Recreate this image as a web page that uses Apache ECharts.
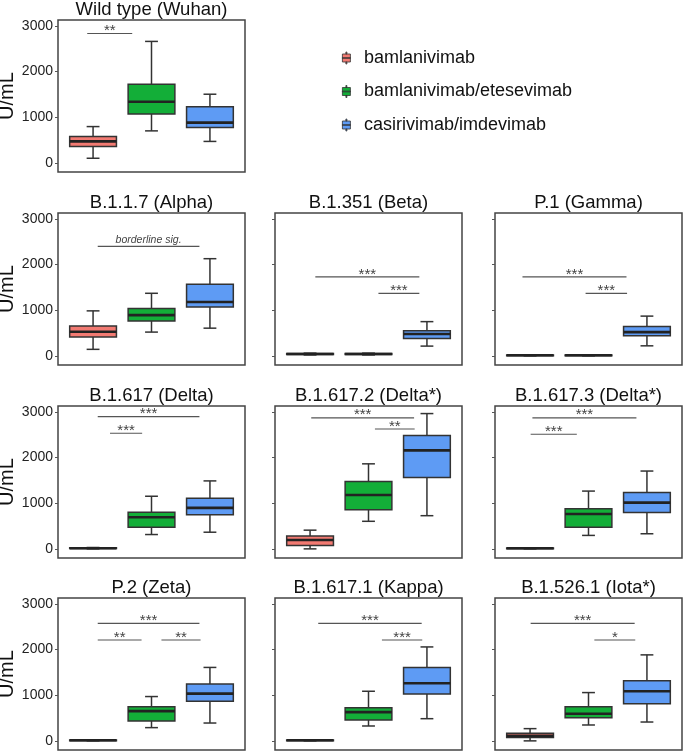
<!DOCTYPE html>
<html>
<head>
<meta charset="utf-8">
<script src="https://cdn.jsdelivr.net/npm/echarts@6/dist/echarts.min.js"></script>
<style>
html,body{margin:0;padding:0;background:#fff;}
#chart{width:685px;height:754px;}
</style>
</head>
<body>
<div id="chart"></div>
<script>
// ---------- DATA ----------
const groups = ['bamlanivimab', 'bamlanivimab/etesevimab', 'casirivimab/imdevimab'];
const panelTitles = ['Wild type (Wuhan)', 'B.1.1.7 (Alpha)', 'B.1.351 (Beta)', 'P.1 (Gamma)',
  'B.1.617 (Delta)', 'B.1.617.2 (Delta*)', 'B.1.617.3 (Delta*)',
  'P.2 (Zeta)', 'B.1.617.1 (Kappa)', 'B.1.526.1 (Iota*)'];
// [min, Q1, median, Q3, max] per panel
const bamlanivimab = [
  [101, 361, 470, 578, 795],
  [143, 414, 529, 657, 986],
  [20, 30, 40, 50, 60],
  [0, 5, 12, 20, 25],
  [0, 8, 15, 22, 30],
  [0, 72, 194, 281, 410],
  [0, 5, 12, 20, 25],
  [0, 5, 12, 20, 25],
  [0, 5, 12, 20, 25],
  [0, 72, 109, 167, 268]
];
const bamlanivimabEtesevimab = [
  [701, 1070, 1338, 1721, 2661],
  [521, 764, 893, 1036, 1371],
  [20, 30, 40, 50, 60],
  [0, 5, 12, 20, 25],
  [314, 474, 693, 803, 1153],
  [604, 856, 1180, 1475, 1863],
  [295, 475, 763, 878, 1266],
  [290, 435, 652, 746, 971],
  [326, 457, 630, 725, 1087],
  [348, 507, 594, 746, 1058]
];
const casirivimabImdevimab = [
  [470, 774, 882, 1229, 1504],
  [607, 1071, 1179, 1571, 2129],
  [214, 379, 479, 550, 750],
  [220, 443, 521, 643, 871],
  [365, 745, 898, 1109, 1489],
  [727, 1561, 2158, 2482, 2964],
  [331, 799, 1014, 1237, 1705],
  [391, 870, 1036, 1246, 1609],
  [486, 1029, 1261, 1609, 2058],
  [413, 812, 1087, 1319, 1884]
];
// significance brackets: panel index, from group pos, to group pos, level (U/mL), label
const sigPanel = [0, 1, 2, 2, 3, 3, 4, 4, 5, 5, 6, 6, 7, 7, 7, 8, 8, 9, 9];
const sigFrom  = [0.90, 1.08, 1.09, 2.17, 0.87, 1.95, 1.08, 1.29, 1.02, 2.11, 1.04, 1.01, 1.08, 1.08, 2.17, 1.14, 2.23, 1.01, 2.10];
const sigTo    = [1.67, 2.82, 2.87, 2.87, 2.65, 2.66, 2.82, 1.84, 2.78, 2.79, 2.82, 1.80, 2.82, 1.83, 2.84, 2.91, 2.92, 2.79, 2.80];
const sigLevel = [2834, 2400, 1729, 1371, 1729, 1371, 2898, 2533, 2871, 2626, 2871, 2511, 2572, 2210, 2210, 2572, 2210, 2572, 2210];
const sigLabel = ['**', 'borderline sig.', '***', '***', '***', '***', '***', '***', '***', '**', '***', '***', '***', '**', '**', '***', '***', '***', '*'];
const yTicks = [0, 1000, 2000, 3000];

// ---------- LAYOUT / STYLE ----------
const colors = ['#F27A72', '#13AE38', '#5E9BF4'];
const seriesData = [bamlanivimab, bamlanivimabEtesevimab, casirivimabImdevimab];
const panelRC = [[0,0],[1,0],[1,1],[1,2],[2,0],[2,1],[2,2],[3,0],[3,1],[3,2]];
const colLeft = [58, 275, 495];
const rowTop = [20, 213, 406, 598];
const gW = 187, gH = 152;
const FONT = 'Liberation Sans, Arial, sans-serif';

const grid = [], xAxis = [], yAxis = [], title = [], series = [];

function renderBox(params, api) {
  const x = api.value(0);
  const v = [1,2,3,4,5].map(i => api.value(i));
  const half = api.size([0.8, 0])[0] / 2;
  const capHalf = api.size([0.22, 0])[0] / 2;
  const c = api.coord([x, 0])[0];
  const y = v.map(val => api.coord([x, val])[1]);
  const stroke = '#333';
  const ls = {stroke: stroke, lineWidth: 1.5};
  return {type: 'group', children: [
    {type: 'line', shape: {x1: c, y1: y[4], x2: c, y2: y[3]}, style: ls},
    {type: 'line', shape: {x1: c, y1: y[0], x2: c, y2: y[1]}, style: ls},
    {type: 'line', shape: {x1: c - capHalf, y1: y[4], x2: c + capHalf, y2: y[4]}, style: ls},
    {type: 'line', shape: {x1: c - capHalf, y1: y[0], x2: c + capHalf, y2: y[0]}, style: ls},
    {type: 'rect', shape: {x: c - half, y: y[3], width: 2 * half, height: Math.max(y[1] - y[3], 0.5)},
      style: {fill: api.visual('color'), stroke: stroke, lineWidth: 1.5}},
    {type: 'line', shape: {x1: c - half, y1: y[2], x2: c + half, y2: y[2]}, style: {stroke: '#222', lineWidth: 2.6}}
  ]};
}

function makeSigRenderer(labels) {
  return function(params, api) {
    const lab = labels[params.dataIndex];
    const p1 = api.coord([api.value(0), api.value(2)]);
    const p2 = api.coord([api.value(1), api.value(2)]);
    const isStar = lab.indexOf('*') >= 0;
    return {type: 'group', children: [
      {type: 'line', shape: {x1: p1[0], y1: p1[1], x2: p2[0], y2: p2[1]}, style: {stroke: '#555', lineWidth: 1.2}},
      {type: 'text', x: (p1[0] + p2[0]) / 2, y: p1[1] + (isStar ? 5 : -1),
        style: {text: lab, fill: '#444', fontSize: isStar ? 15 : 10.5, fontStyle: isStar ? 'normal' : 'italic',
          fontFamily: FONT, align: 'center', verticalAlign: 'bottom', textAlign: 'center', textVerticalAlign: 'bottom'}}
    ]};
  };
}

panelTitles.forEach((t, p) => {
  const r = panelRC[p][0], c = panelRC[p][1];
  const left = colLeft[c], top = rowTop[r];
  grid.push({left: left, top: top, width: gW, height: gH, show: true, borderColor: '#444', borderWidth: 1.5,
    backgroundColor: '#fff', containLabel: false, outerBoundsMode: 'none'});
  xAxis.push({type: 'value', gridIndex: p, min: 0.4, max: 3.6, show: false});
  yAxis.push({type: 'value', gridIndex: p, min: -200, max: 3130,
    axisLine: {show: false}, splitLine: {show: false},
    axisTick: {show: true, length: 3, lineStyle: {color: '#555', width: 1}, customValues: yTicks},
    axisLabel: {show: c === 0, customValues: yTicks, fontSize: 14, color: '#222', fontFamily: FONT, margin: 5,
      formatter: function (v) { return String(v); }},
    name: c === 0 ? 'U/mL' : '', nameLocation: 'middle', nameGap: 33,
    nameTextStyle: {fontSize: 20, color: '#111', fontFamily: FONT}});
  title.push({text: t, left: left + gW / 2, top: top - 20, textAlign: 'center', padding: 0,
    textStyle: {fontSize: 18.5, fontWeight: 'normal', color: '#111', fontFamily: FONT}});
  groups.forEach((g, gi) => {
    series.push({type: 'custom', name: g, xAxisIndex: p, yAxisIndex: p,
      itemStyle: {color: colors[gi]}, renderItem: renderBox, silent: true,
      encode: {x: 0, y: [1,2,3,4,5]},
      data: [[gi + 1].concat(seriesData[gi][p])]});
  });
  const idx = sigPanel.map((pp, i) => pp === p ? i : -1).filter(i => i >= 0);
  if (idx.length) {
    series.push({type: 'custom', xAxisIndex: p, yAxisIndex: p, silent: true,
      renderItem: makeSigRenderer(idx.map(i => sigLabel[i])),
      encode: {x: [0, 1], y: 2},
      data: idx.map(i => [sigFrom[i], sigTo[i], sigLevel[i]])});
  }
});

const iconPath = 'path://M0,2L8,2L8,10L0,10Z M3.5,0L4.5,0L4.5,2L3.5,2Z M3.5,10L4.5,10L4.5,12L3.5,12Z M0,5.6L8,5.6L8,6.4L0,6.4Z';

const option = {
  animation: false,
  backgroundColor: '#fff',
  title: title,
  legend: {orient: 'vertical', left: 337, top: 44, itemGap: 15.5, itemWidth: 25, itemHeight: 12,
    data: groups, icon: iconPath, selectedMode: false,
    itemStyle: {borderColor: '#333', borderWidth: 0.8},
    textStyle: {fontSize: 18, color: '#111', fontFamily: FONT}},
  grid: grid, xAxis: xAxis, yAxis: yAxis, series: series
};
const chart = echarts.init(document.getElementById('chart'), null, {renderer: 'canvas'});
chart.setOption(option);
</script>
</body>
</html>
